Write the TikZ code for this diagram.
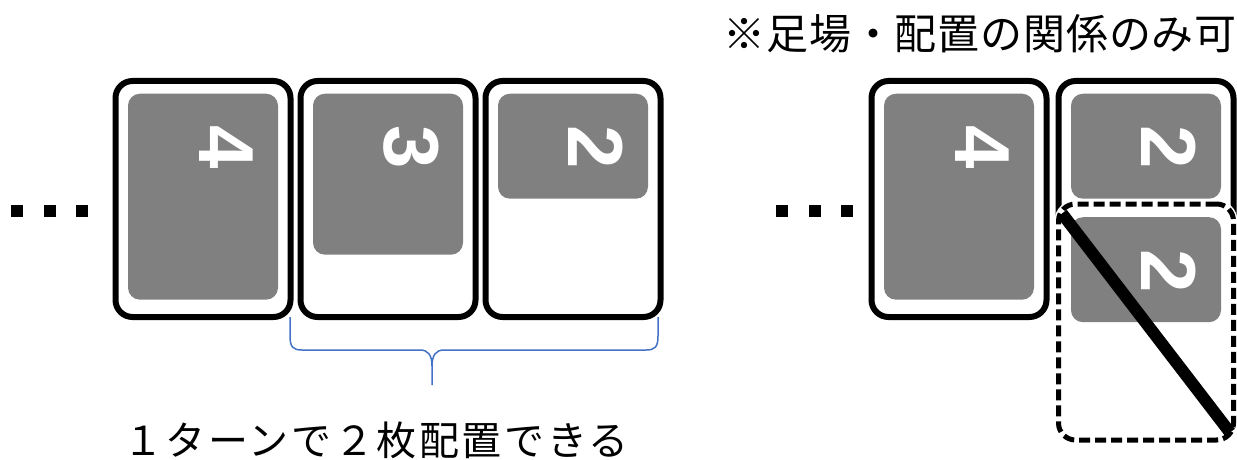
\documentclass[tikz,border=0pt]{standalone}
\usepackage{fontspec}
\usetikzlibrary{positioning}
\newfontfamily\jpfont{Noto Sans CJK JP}
\newfontfamily\numfont{Liberation Sans}
\definecolor{facegray}{RGB}{128,128,128}
\definecolor{braceblue}{RGB}{68,114,196}

\begin{document}
\begin{tikzpicture}[x=1pt,y=-1pt,
  card/.style={draw,fill=white,line width=6pt,rounded corners=17pt,minimum width=175pt,minimum height=236pt,inner sep=0pt},
  ghost/.style={card,dash pattern=on 11pt off 5pt,line width=5pt,preaction={draw=white,solid,line width=8pt}},
  face/.style={fill=facegray,rounded corners=12pt,minimum width=150pt,inner sep=0pt},
  num/.style={text=white,font=\numfont\bfseries\fontsize{78}{78}\selectfont,rotate=-90,inner sep=0pt},
  dot/.style={fill,minimum size=12pt,inner sep=0pt},
  note/.style={inner sep=0pt}]
  \useasboundingbox (0,0) rectangle (1237,460);
  % left: three cards in a row
  \foreach \i/\x in {1/17,2/49.5,3/82}
    \node[dot] (ld\i) at (\x,211) {};
  \node[card] (c1) at (203,199) {};
  \node[card,right=4pt of c1] (c2) {};
  \node[card,right=4pt of c2] (c3) {};
  \node[face,minimum height=206pt,below=15.5pt of c1.north] (f1) {};
  \node[face,minimum height=161pt,below=15.5pt of c2.north] (f2) {};
  \node[face,minimum height=105pt,below=15.5pt of c3.north] (f3) {};
  \node[num] (n1) at ([shift={(-52,54)}]f1.north east) {4};
  \node[num] (n2) at ([shift={(-52,54)}]f2.north east) {3};
  \node[num] (n3) at ([shift={(-52,54)}]f3.north east) {2};
  \draw[braceblue,line width=1.5pt] (290,317) -- (290,336) .. controls (290,347) and (293,350) .. (302,350)
    -- (420,350) .. controls (428,350) and (432,355) .. (432,366) -- (432,385);
  \draw[braceblue,line width=1.5pt] (432,366) .. controls (432,355) and (436,350) .. (444,350)
    -- (646,350) .. controls (655,350) and (658,347) .. (658,336) -- (658,317);
  \node[note,anchor=base west] (gain) at (123,455) {\jpfont\fontsize{40}{40}\selectfont\addfontfeature{LetterSpace=6.5}１ターンで２枚配置できる};
  % right: stacking not allowed
  \foreach \i/\x in {1/782,2/814.5,3/847}
    \node[dot] (rd\i) at (\x,211) {};
  \node[card] (ca) at (959,199) {};
  \node[card,right=6pt of ca] (cb) {};
  \node[face,minimum height=206pt,below=15.5pt of ca.north] (fa) {};
  \node[face,minimum height=105pt,below=15.5pt of cb.north] (fb) {};
  \node[num] (na) at ([shift={(-52,54)}]fa.north east) {4};
  \node[num] (nb) at ([shift={(-52,54)}]fb.north east) {2};
  \node[ghost] (cg) at ([yshift=-123pt]cb.center) {};
  \node[face,minimum height=105pt,below=15.5pt of cg.north] (fg) {};
  \node[num] (ng) at ([shift={(-52,54)}]fg.north east) {2};
  \coordinate (cut1) at ([shift={(6,12)}]cg.north west);
  \coordinate (cut2) at ([shift={(-6,-10)}]cg.south east);
  \draw[line width=12pt] (cut1) -- (cut2);
  \node[note,anchor=base east] (rule) at (1237,50) {\jpfont\fontsize{42}{42}\selectfont\addfontfeature{LetterSpace=2}※足場・配置の関係のみ可};
\end{tikzpicture}
\end{document}
